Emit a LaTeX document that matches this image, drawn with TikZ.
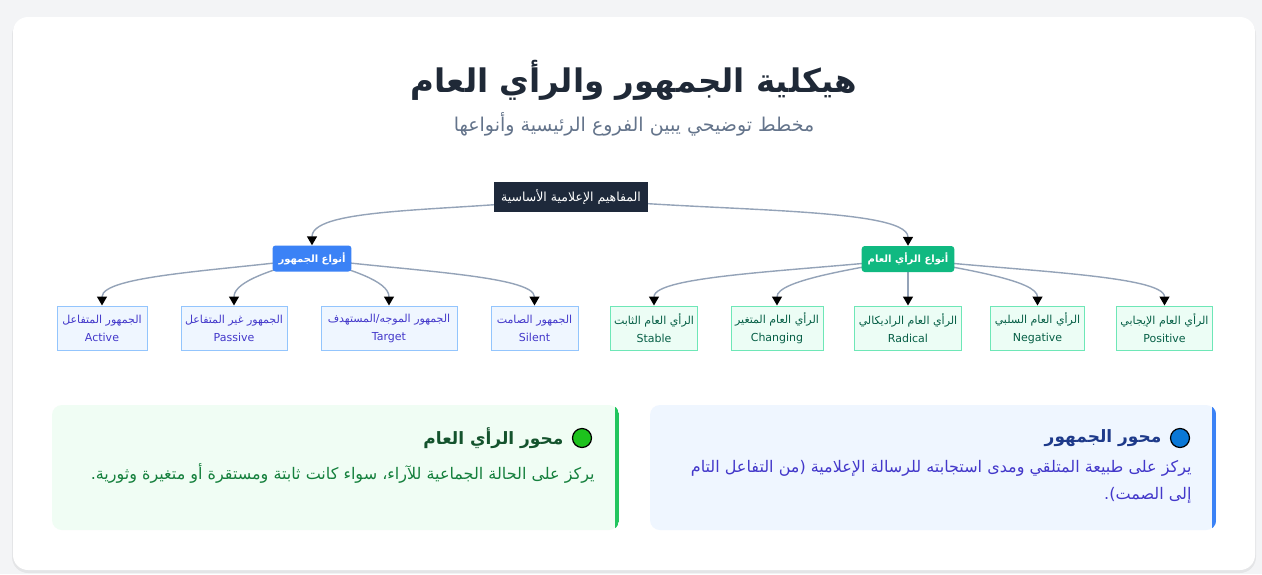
\documentclass[tikz,border=0pt]{standalone}
\usepackage{fontspec}
\setmainfont{DejaVu Sans}
\newfontfamily\arabicfont[Script=Arabic]{DejaVu Sans}
\TeXXeTstate=1
\usetikzlibrary{arrows.meta,positioning}
\newcommand\artxt[1]{{\arabicfont\beginR #1\endR}}

\definecolor{pagebg}{HTML}{F3F4F6}
\definecolor{titleink}{HTML}{1F2937}
\definecolor{subink}{HTML}{64748B}
\definecolor{rootfill}{HTML}{1E293B}
\definecolor{edgegray}{HTML}{94A3B8}
\definecolor{audblue}{HTML}{3B82F6}
\definecolor{opgreen}{HTML}{10B981}
\definecolor{audleaffill}{HTML}{EFF6FF}
\definecolor{audleafdraw}{HTML}{93C5FD}
\definecolor{audleafink}{HTML}{4338CA}
\definecolor{opleaffill}{HTML}{ECFDF5}
\definecolor{opleafdraw}{HTML}{6EE7B7}
\definecolor{opleafink}{HTML}{065F46}
\definecolor{oppanelfill}{HTML}{F0FDF4}
\definecolor{opstripe}{HTML}{22C55E}
\definecolor{optitleink}{HTML}{14532D}
\definecolor{optextink}{HTML}{15803D}
\definecolor{oppoint}{HTML}{1DC21D}
\definecolor{audtitleink}{HTML}{1E3A8A}
\definecolor{audtextink}{HTML}{4338CA}
\definecolor{audpoint}{HTML}{0A78D7}

\pgfdeclarelayer{back}
\pgfdeclarelayer{links}
\pgfsetlayers{back,links,main}

\tikzset{
  rootbox/.style={fill=rootfill, text=white, minimum width=154pt, minimum height=30pt,
    inner sep=3pt, font=\fontsize{12.5}{14}\selectfont},
  midbox/.style={rounded corners=3pt, text=white, minimum height=26pt, inner xsep=6pt,
    font=\bfseries\fontsize{10}{12}\selectfont},
  leafbox/.style={draw, line width=1pt, minimum height=44pt, inner xsep=4pt, align=center,
    font=\fontsize{11}{18}\selectfont},
  audleaf/.style={leafbox, fill=audleaffill, draw=audleafdraw, text=audleafink},
  opleaf/.style={leafbox, fill=opleaffill, draw=opleafdraw, text=opleafink},
  link/.style={draw=edgegray, line width=1.4pt, -{Triangle[width=10pt,length=9pt,color=black]}},
  panel/.style={rounded corners=10pt, minimum height=125pt},
  point/.style={circle, draw=black, line width=1.2pt, minimum size=19pt, inner sep=0pt},
  paneltitle/.style={font=\bfseries\fontsize{17}{20}\selectfont},
  paneltext/.style={font=\fontsize{16}{27}\selectfont, align=right}
}

\begin{document}
\begin{tikzpicture}[x=1pt,y=-1pt]
\begin{pgfonlayer}{back}
  \fill[pagebg] (0,0) rectangle (1262,574);
  \fill[black, opacity=0.06, rounded corners=16pt] (12,19) rectangle (1256,573);
  \fill[white, rounded corners=15pt] (13,17) rectangle (1255,570);
\end{pgfonlayer}

\node[font=\bfseries\fontsize{32.5}{38}\selectfont, text=titleink] (title) at (634,80) {\artxt{هيكلية الجمهور والرأي العام}};
\node[font=\fontsize{19}{22}\selectfont, text=subink] (subtitle) at (634,124) {\artxt{مخطط توضيحي يبين الفروع الرئيسية وأنواعها}};

\node[rootbox] (root) at (571,197) {\artxt{المفاهيم الإعلامية الأساسية}};
\node[midbox, fill=audblue] (audType) at (312,258.5) {\artxt{أنواع الجمهور}};
\node[midbox, fill=opgreen] (opType) at (908,259) {\artxt{أنواع الرأي العام}};

\node[audleaf, minimum width=90pt] (active) at (102,328) {\artxt{الجمهور المتفاعل}\\Active};
\node[audleaf, minimum width=106pt] (passive) at (234,328) {\artxt{الجمهور غير المتفاعل}\\Passive};
\node[audleaf, minimum width=136pt] (target) at (389,328) {\artxt{الجمهور الموجه/المستهدف}\\Target};
\node[audleaf, minimum width=87pt] (silent) at (534.5,328) {\artxt{الجمهور الصامت}\\Silent};

\node[opleaf, minimum width=86pt] (stable) at (654,328) {\artxt{الرأي العام الثابت}\\Stable};
\node[opleaf, minimum width=92pt] (changing) at (777,328) {\artxt{الرأي العام المتغير}\\Changing};
\node[opleaf, minimum width=101pt] (radical) at (908,328) {\artxt{الرأي العام الراديكالي}\\Radical};
\node[opleaf, minimum width=91pt] (negative) at (1037.5,328) {\artxt{الرأي العام السلبي}\\Negative};
\node[opleaf, minimum width=93pt] (positive) at (1164.5,328) {\artxt{الرأي العام الإيجابي}\\Positive};

\begin{pgfonlayer}{links}
  \draw[link] (root.center) .. controls +(-100,15) and +(0,-40) .. (audType.north);
  \draw[link] (root.center) .. controls +(120,15) and +(0,-40) .. (opType.north);
  \draw[link] (audType.center) .. controls +(-90,12) and +(0,-30) .. (active.north);
  \draw[link] (audType.center) .. controls +(-35,10) and +(0,-25) .. (passive.north);
  \draw[link] (audType.center) .. controls +(35,10) and +(0,-25) .. (target.north);
  \draw[link] (audType.center) .. controls +(90,12) and +(0,-30) .. (silent.north);
  \draw[link] (opType.center) .. controls +(-110,12) and +(0,-30) .. (stable.north);
  \draw[link] (opType.center) .. controls +(-55,10) and +(0,-25) .. (changing.north);
  \draw[link] (opType.south) -- (radical.north);
  \draw[link] (opType.center) .. controls +(55,10) and +(0,-25) .. (negative.north);
  \draw[link] (opType.center) .. controls +(110,12) and +(0,-30) .. (positive.north);
\end{pgfonlayer}

\node[panel, fill=oppanelfill, minimum width=567pt] (opPanel) at (335.5,467.5) {};
\node[panel, fill=audleaffill, minimum width=566pt] (audPanel) at (933,467.5) {};
\begin{scope}
  \clip[rounded corners=10pt] (opPanel.north west) rectangle (opPanel.south east);
  \fill[opstripe] ([xshift=-4pt]opPanel.north east) rectangle (opPanel.south east);
\end{scope}
\begin{scope}
  \clip[rounded corners=10pt] (audPanel.north west) rectangle (audPanel.south east);
  \fill[audblue] ([xshift=-4pt]audPanel.north east) rectangle (audPanel.south east);
\end{scope}

\node[point, fill=oppoint] (opDot) at (582,438) {};
\node[paneltitle, text=optitleink, left=5pt of opDot] (opTitle) {\artxt{محور الرأي العام}};
\node[paneltext, text=optextink, anchor=east] (opText) at (598,473) {\artxt{يركز على الحالة الجماعية للآراء، سواء كانت ثابتة ومستقرة أو متغيرة وثورية.}};

\node[point, fill=audpoint] (audDot) at (1180,438) {};
\node[paneltitle, text=audtitleink, left=5pt of audDot] (audTitle) {\artxt{محور الجمهور}};
\node[paneltext, text=audtextink, anchor=north east] (audText) at (1195,457) {\artxt{يركز على طبيعة المتلقي ومدى استجابته للرسالة الإعلامية (من التفاعل التام}\\\artxt{إلى الصمت).}};
\end{tikzpicture}
\end{document}
